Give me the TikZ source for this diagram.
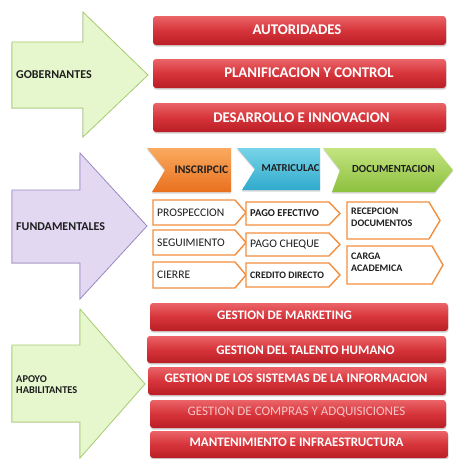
\documentclass[tikz,border=0pt]{standalone}
\usepackage{fontspec}
\setmainfont{Carlito}
\usetikzlibrary{shadows}

\definecolor{barTop}{RGB}{234,100,104}
\definecolor{barMid}{RGB}{214,52,58}
\definecolor{barBot}{RGB}{186,30,38}
\definecolor{gobFill}{RGB}{230,246,205}
\definecolor{gobLine}{RGB}{168,204,112}
\definecolor{funFill}{RGB}{226,216,242}
\definecolor{funLine}{RGB}{156,136,196}
\definecolor{procLine}{RGB}{242,142,62}
\definecolor{txtDark}{RGB}{30,30,30}

\newcommand{\procbox}[7][]{%
  \draw[procline] (#3,#4) -- ++(#5-11,0) -- ++(11,#6/2) -- ++(-11,#6/2) -- (#3,#4+#6) -- cycle;
  \node[proctxt,#1] (#2) at (#3+4,#4+#6/2) {#7};}

\tikzset{
  redbar/.style={rounded corners=3pt, top color=barTop, bottom color=barBot, middle color=barMid,
    drop shadow={shadow xshift=0.6pt, shadow yshift=-1.6pt, opacity=0.35},
    minimum width=293pt, minimum height=29pt, inner sep=0pt},
  bartxt/.style={text=white, font=\bfseries\fontsize{14.8}{16}\selectfont, inner sep=0pt},
  lowtxt/.style={text=white, font=\bfseries\fontsize{13}{14}\selectfont, inner sep=0pt},
  gobarrow/.style={fill=gobFill, draw=gobLine, line width=0.8pt,
    drop shadow={shadow xshift=-0.8pt, shadow yshift=-0.8pt, opacity=0.25}},
  funarrow/.style={fill=funFill, draw=funLine, line width=0.8pt,
    drop shadow={shadow xshift=-0.8pt, shadow yshift=-0.8pt, opacity=0.25}},
  armtxt/.style={text=txtDark, font=\bfseries\fontsize{12}{13}\selectfont, inner sep=0pt, anchor=west},
  chevron/.style={drop shadow={shadow xshift=0pt, shadow yshift=-1.5pt, opacity=0.3}},
  chevtxt/.style={text=txtDark, font=\bfseries\fontsize{11.6}{12}\selectfont, inner sep=0pt},
  procline/.style={draw=procLine, line width=1.4pt, fill=white, line join=miter},
  proctxt/.style={text=txtDark, font=\fontsize{11.6}{13}\selectfont, inner sep=0pt, anchor=west, align=left},
  smallbold/.style={font=\bfseries\fontsize{10}{12}\selectfont}
}

\begin{document}
\begin{tikzpicture}[x=1pt,y=-1pt]
\useasboundingbox (0,0) rectangle (454,459);

% big arrows on the left
\draw[gobarrow] (12,42) -- ++(71,0) -- ++(0,-30) -- (148,75) -- (83,137) -- ++(0,-29) -- (12,108) -- cycle;
\node[armtxt] (gob) at (16,75) {GOBERNANTES};
\draw[funarrow] (12,190) -- ++(68,0) -- ++(0,-37) -- (147,226) -- (80,299) -- ++(0,-36) -- (12,263) -- cycle;
\node[armtxt] (fun) at (16,227) {FUNDAMENTALES};
\draw[gobarrow] (12,345) -- ++(68,0) -- ++(0,-36) -- (145,384) -- (80,458) -- ++(0,-36) -- (12,422) -- cycle;
\node[armtxt, align=left, font=\bfseries\fontsize{10.4}{11}\selectfont] (apo) at (16,385) {APOYO\\HABILITANTES};

% top bars
\node[redbar] (aut) at (299.5,30.5) {};
\node[bartxt] (autt) at (297,30) {AUTORIDADES};
\node[redbar] (pla) at (299.5,73.5) {};
\node[bartxt] (plat) at (309,73) {PLANIFICACION Y CONTROL};
\node[redbar] (des) at (299.5,117.5) {};
\node[bartxt] (dest) at (301.5,118) {DESARROLLO E INNOVACION};

% chevrons
\shade[chevron, top color={rgb,255:red,250;green,170;blue,95}, bottom color={rgb,255:red,232;green,112;blue,30}]
  (147,148) -- (231,148) -- (231,192) -- (152,192) -- (165,170) -- cycle;
\node[chevtxt] (ins) at (201.5,170) {INSCRIPCIC};
\shade[chevron, top color={rgb,255:red,120;green,212;blue,232}, bottom color={rgb,255:red,48;green,170;blue,205}]
  (237,148) -- (320,148) -- (320,190) -- (242,190) -- (255,169) -- cycle;
\node[chevtxt, font=\bfseries\fontsize{10.6}{12}\selectfont] (mat) at (290.5,168) {MATRICULAC};
\shade[chevron, top color={rgb,255:red,196;green,228;blue,128}, bottom color={rgb,255:red,140;green,192;blue,62}]
  (323,148) -- (435,148) -- (453,170) -- (435,192) -- (332,192) -- (340,170) -- cycle;
\node[chevtxt, font=\bfseries\fontsize{10.8}{12}\selectfont] (doc) at (393.5,169) {DOCUMENTACION};

% process boxes
\procbox{pros}{153}{200}{93}{25}{PROSPECCION}
\procbox{segu}{153}{230}{93}{25}{SEGUIMIENTO}
\procbox{cier}{153}{262}{93}{26}{CIERRE}
\procbox[smallbold, font=\bfseries\fontsize{10.5}{12}\selectfont]{efec}{246}{202}{94}{23}{PAGO EFECTIVO}
\procbox{cheq}{246}{233}{94}{23}{PAGO CHEQUE}
\procbox[smallbold, font=\bfseries\fontsize{9.9}{12}\selectfont]{cred}{246}{263}{94}{24}{CREDITO DIRECTO}
\procbox[smallbold, yshift=3pt]{rece}{347}{202}{93}{37}{RECEPCION\\DOCUMENTOS}
\procbox[smallbold, yshift=3pt]{carg}{347}{246}{96}{38}{CARGA\\ACADEMICA}

% bottom bars
\node[redbar, minimum width=298pt, minimum height=28pt] (mar) at (299,317) {};
\node[lowtxt] (mart) at (284.5,315) {GESTION DE MARKETING};
\node[redbar, minimum width=299pt, minimum height=27pt] (tal) at (296.5,349.5) {};
\node[lowtxt] (talt) at (305.5,350) {GESTION DEL TALENTO HUMANO};
\node[redbar, minimum width=298pt, minimum height=28pt] (sis) at (297,381) {};
\node[lowtxt] (sist) at (296,378) {GESTION DE LOS SISTEMAS DE LA INFORMACION};
\node[redbar, minimum width=296pt, minimum height=28pt] (com) at (298,414) {};
\node[lowtxt, font=\fontsize{13}{14}\selectfont, text={rgb,255:red,246;green,196;blue,196}] (comt) at (296.5,412) {GESTION DE COMPRAS Y ADQUISICIONES};
\node[redbar, minimum width=298pt, minimum height=27pt] (man) at (299,444.5) {};
\node[lowtxt] (mant) at (296.5,442) {MANTENIMIENTO E INFRAESTRUCTURA};
\end{tikzpicture}
\end{document}
